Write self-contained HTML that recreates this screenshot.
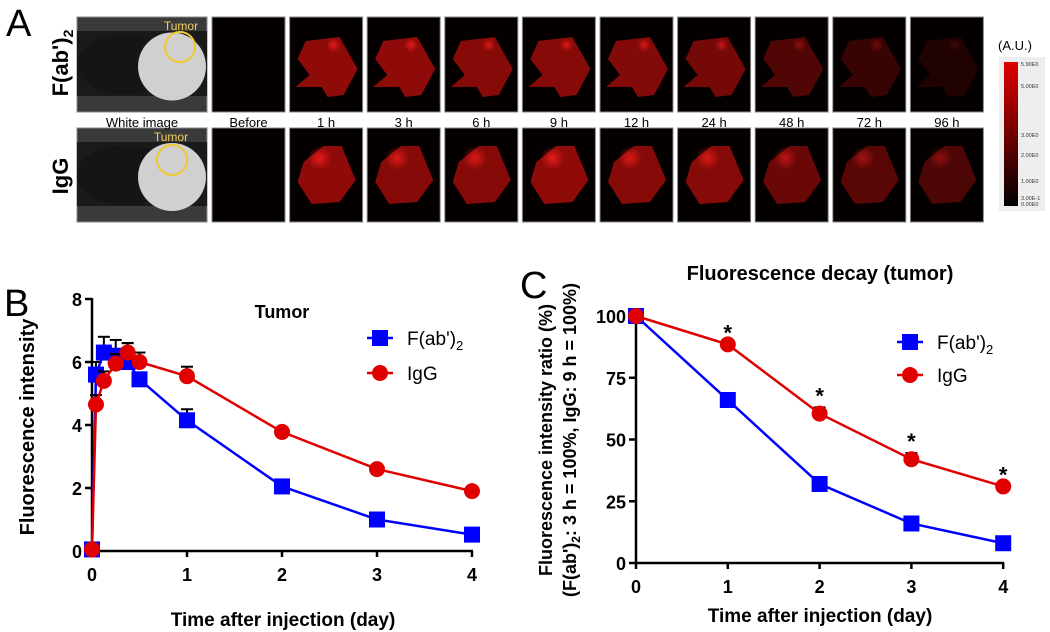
<!DOCTYPE html>
<html><head><meta charset="utf-8"><style>
body{margin:0;background:#fff;width:1050px;height:632px;overflow:hidden;font-family:"Liberation Sans",Arial,sans-serif}
svg{display:block}
</style></head><body>
<svg id="fig" width="1050" height="632" viewBox="0 0 1050 632" font-family="Liberation Sans, Arial, sans-serif">
<defs>
<linearGradient id="cb" x1="0" y1="1" x2="0" y2="0"><stop offset="0" stop-color="#000"/><stop offset="1" stop-color="#e00000"/></linearGradient>
<radialGradient id="spot"><stop offset="0" stop-color="#ff2020"/><stop offset="1" stop-color="#ff2020" stop-opacity="0"/></radialGradient>
</defs>
<g id="panelA"></g>
<g id="panelB"></g>
<g id="panelC"></g>
</svg>
<script>
const NS='http://www.w3.org/2000/svg';
function mk(parent,tag,attrs,text){const e=document.createElementNS(NS,tag);for(const k in attrs)e.setAttribute(k,attrs[k]);if(text!==undefined)e.textContent=text;parent.appendChild(e);return e;}

// ---------- Panel A ----------
const timeLabels=['Before','1 h','3 h','6 h','9 h','12 h','24 h','48 h','72 h','96 h'];
const fabIntensity=[0,0.75,0.75,0.7,0.7,0.68,0.6,0.4,0.28,0.15];
const iggIntensity=[0,0.75,0.7,0.7,0.75,0.7,0.7,0.55,0.45,0.38];
const A=document.getElementById('panelA');
let t=mk(A,'text',{x:6,y:36,'font-size':38},'A');


function rowLabel(y,txt,sub){const tt=mk(A,'text',{transform:`translate(68,${y}) rotate(-90)`,'text-anchor':'middle','font-size':22,'font-weight':'bold'},txt);
 if(sub){mk(tt,'tspan',{'font-size':14,dy:5},sub);} return tt;}
t=rowLabel(63,"F(ab')",'2');


t=rowLabel(176,'IgG');


const rows=[{y:17,h:95,vals:fabIntensity},{y:128,h:94,vals:iggIntensity}];
rows.forEach((r,ri)=>{
 const g=mk(A,'g',{});
 
 
 mk(g,'rect',{x:77,y:r.y,width:130,height:r.h,fill:'#3a3a3a',stroke:'#888'});
 mk(g,'rect',{x:77,y:r.y+14,width:130,height:r.h-30,fill:'#1a1a1a'});
 mk(g,'ellipse',{cx:125,cy:r.y+r.h/2,rx:48,ry:30,fill:'#151515'});
 mk(g,'ellipse',{cx:172,cy:r.y+r.h/2+2,rx:34,ry:34,fill:'#d0d0d0'});
 mk(g,'circle',{cx:ri?172:180,cy:r.y+(ri?32:30),r:15,fill:'none',stroke:'#f0c830','stroke-width':2});
 mk(g,'text',{x:ri?171:181,y:r.y+13,'text-anchor':'middle','font-size':12,fill:'#f0d060'},'Tumor');
 for(let i=0;i<10;i++){
  const x=212+77.6*i;
  const tg=mk(A,'g',{});
  
  
  mk(tg,'rect',{x:x,y:r.y,width:73,height:r.h,fill:'#050000',stroke:'#888'});
  const v=r.vals[i];
  if(v>0){
   const c=`rgba(190,15,12,${v})`;
   if(ri===0) mk(tg,'path',{d:`M${x+16} ${r.y+24} L${x+50} ${r.y+20} L${x+68} ${r.y+52} L${x+54} ${r.y+78} L${x+38} ${r.y+80} L${x+32} ${r.y+70} L${x+6} ${r.y+70} L${x+20} ${r.y+58} L${x+8} ${r.y+42} Z`,fill:c});
   else mk(tg,'path',{d:`M${x+14} ${r.y+34} L${x+34} ${r.y+18} L${x+52} ${r.y+18} L${x+66} ${r.y+52} L${x+50} ${r.y+74} L${x+22} ${r.y+76} L${x+8} ${r.y+54} Z`,fill:c});
   mk(tg,'circle',{cx:x+(ri?30:44),cy:r.y+(ri?30:28),r:ri?12:7,fill:'url(#spot)',opacity:v});
  }
  if(ri===0){const l=mk(A,'text',{x:x+36.5,y:127,'text-anchor':'middle','font-size':13},timeLabels[i]);
   
   }
 }
});
t=mk(A,'text',{x:142,y:127,'text-anchor':'middle','font-size':13},'White image');


t=mk(A,'text',{x:998,y:50,'font-size':13},'(A.U.)');


const cbg=mk(A,'g',{});


mk(cbg,'rect',{x:999,y:57,width:46,height:154,fill:'#eeeeee'});
mk(cbg,'rect',{x:1004,y:62,width:14,height:144,fill:'url(#cb)'});
const cbLabels=[['5.90E0',64],['5.00E0',86],['3.00E0',135],['2.00E0',155],['1.00E0',181],['3.00E-1',198],['0.00E0',204]];
cbLabels.forEach(l=>{mk(cbg,'text',{x:1021,y:l[1]+2,'font-size':5.5,fill:'#333'},l[0]);});

// ---------- chart helpers ----------
function axesChart(G,ox,oy,xs,ys,xTicks,yTicks,yLabels){
 const ax=mk(G,'g',{stroke:'#000','stroke-width':2.5,fill:'none'});
 
 
 mk(ax,'line',{x1:xs(0)-1,y1:oy,x2:xs(xTicks[xTicks.length-1])+1,y2:oy});
 mk(ax,'line',{x1:ox,y1:oy+1,x2:ox,y2:ys(yTicks[yTicks.length-1])-1});
 xTicks.forEach(v=>{mk(ax,'line',{x1:xs(v),y1:oy,x2:xs(v),y2:oy+6});
  const l=mk(G,'text',{x:xs(v),y:oy+30,'text-anchor':'middle','font-size':18,'font-weight':'bold'},v);
  
  });
 yTicks.forEach((v,i)=>{mk(ax,'line',{x1:ox-7,y1:ys(v),x2:ox,y2:ys(v)});
  const l=mk(G,'text',{x:ox-10,y:ys(v)+7,'text-anchor':'end','font-size':18,'font-weight':'bold'},yLabels[i]);
  
  });
}
function series(G,xsArr,vals,errs,xs,ys,color,shape,name){
 const g=mk(G,'g',{});
 
 
 xsArr.forEach((x,i)=>{if(errs[i]>0){const px=xs(x),py=ys(vals[i]),pe=ys(vals[i]+errs[i]);
  mk(g,'line',{x1:px,y1:py,x2:px,y2:pe,stroke:'#000','stroke-width':2});
  mk(g,'line',{x1:px-6,y1:pe,x2:px+6,y2:pe,stroke:'#000','stroke-width':2});}});
 mk(g,'polyline',{points:xsArr.map((x,i)=>xs(x)+','+ys(vals[i])).join(' '),fill:'none',stroke:color,'stroke-width':2.5});
 xsArr.forEach((x,i)=>{const px=xs(x),py=ys(vals[i]);
  let m;
  if(shape==='sq') m=mk(g,'rect',{x:px-8,y:py-8,width:16,height:16,fill:color});
  else m=mk(g,'circle',{cx:px,cy:py,r:8,fill:color});
  
  });
}
function legend(G,x,y,color,shape,label,sub){
 const g=mk(G,'g',{});
 
 
 mk(g,'line',{x1:x-13,y1:y,x2:x+13,y2:y,stroke:color,'stroke-width':2.5});
 if(shape==='sq') mk(g,'rect',{x:x-8,y:y-8,width:16,height:16,fill:color});
 else mk(g,'circle',{cx:x,cy:y,r:8,fill:color});
 const tt=mk(g,'text',{x:x+27,y:y+7,'font-size':19},label);
 if(sub) mk(tt,'tspan',{'font-size':13,dy:5},sub);
}

// ---------- Panel B ----------
const bTimes=[0,0.042,0.125,0.25,0.375,0.5,1,2,3,4];
const bFab=[0.05,5.6,6.3,6.2,6.0,5.45,4.15,2.05,1.0,0.52];
const bFabErr=[0,0.4,0.5,0.5,0.6,0,0.35,0,0,0];
const bIgg=[0.05,4.65,5.4,5.95,6.3,6.0,5.55,3.78,2.6,1.9];
const bIggErr=[0,0.3,0.3,0.3,0.3,0.3,0.3,0,0,0];
const bXTicks=[0,1,2,3,4];
const bYTicks=[0,2,4,6,8];
const B=document.getElementById('panelB');
const bx=v=>92+v*95, by=v=>551-v*31.5;
t=mk(B,'text',{x:4,y:316,'font-size':38},'B');


axesChart(B,92,551,bx,by,bXTicks,bYTicks,bYTicks);
series(B,bTimes,bFab,bFabErr,bx,by,'#0000ff','sq','fab');
series(B,bTimes,bIgg,bIggErr,bx,by,'#e00000','ci','igg');
t=mk(B,'text',{x:282,y:318,'text-anchor':'middle','font-size':18,'font-weight':'bold'},'Tumor');


legend(B,380,338,'#0000ff','sq',"F(ab')",'2');
legend(B,380,373,'#e00000','ci','IgG');
t=mk(B,'text',{x:283,y:626,'text-anchor':'middle','font-size':19,'font-weight':'bold'},'Time after injection (day)');


t=mk(B,'text',{transform:'translate(34,427) rotate(-90)','text-anchor':'middle','font-size':20,'font-weight':'bold'},'Fluorescence intensity');



// ---------- Panel C ----------
const cTimes=[0,1,2,3,4];
const cFab=[100,66,32,16,8];
const cFabErr=[0,2,0,0,0];
const cIgg=[100,88.5,60.5,42,31];
const cIggErr=[0,0,2.5,2.5,0];
const cSig=[false,true,true,true,true];
const cYTicks=[0,25,50,75,100];
const C=document.getElementById('panelC');
const cx=v=>636+v*91.8, cy=v=>563-v*2.47;
t=mk(C,'text',{x:520,y:298,'font-size':38},'C');


axesChart(C,636,563,cx,cy,cTimes,cYTicks,cYTicks);
series(C,cTimes,cFab,cFabErr,cx,cy,'#0000ff','sq','fab');
series(C,cTimes,cIgg,cIggErr,cx,cy,'#e00000','ci','igg');
cTimes.forEach((x,i)=>{if(cSig[i]){const s=mk(C,'text',{x:cx(x),y:cy(cIgg[i]+cIggErr[i])-4,'text-anchor':'middle','font-size':22,'font-weight':'bold'},'*');
 
 }});
t=mk(C,'text',{x:820,y:280,'text-anchor':'middle','font-size':20,'font-weight':'bold'},'Fluorescence decay (tumor)');


legend(C,910,342,'#0000ff','sq',"F(ab')",'2');
legend(C,910,375,'#e00000','ci','IgG');
t=mk(C,'text',{x:820,y:622,'text-anchor':'middle','font-size':19,'font-weight':'bold'},'Time after injection (day)');


t=mk(C,'text',{transform:'translate(552,440) rotate(-90)','text-anchor':'middle','font-size':18,'font-weight':'bold'},'Fluorescence intensity ratio (%)');


t=mk(C,'text',{transform:'translate(576,440) rotate(-90)','text-anchor':'middle','font-size':18,'font-weight':'bold'},"(F(ab')");
mk(t,'tspan',{'font-size':12,dy:4},'2');
mk(t,'tspan',{dy:-4},': 3 h = 100%, IgG: 9 h = 100%)');


</script>
</body></html>
